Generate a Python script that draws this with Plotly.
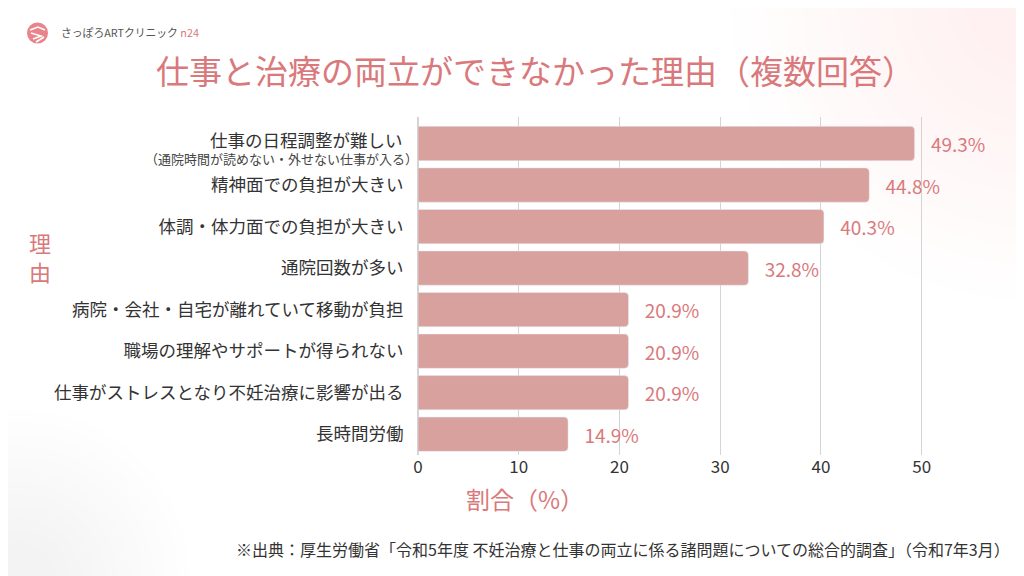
import plotly.graph_objects as go

categories = [
    "仕事の日程調整が難しい",
    "精神面での負担が大きい",
    "体調・体力面での負担が大きい",
    "通院回数が多い",
    "病院・会社・自宅が離れていて移動が負担",
    "職場の理解やサポートが得られない",
    "仕事がストレスとなり不妊治療に影響が出る",
    "長時間労働",
]
sub_note = "（通院時間が読めない・外せない仕事が入る）"
values = [49.3, 44.8, 40.3, 32.8, 20.9, 20.9, 20.9, 14.9]
x_ticks = [0, 10, 20, 30, 40, 50]

PINK = "#d9797b"
BAR = "#d8a19d"
FONT = "Noto Sans CJK JP"

# page body has an 8px margin; work in screen pixels and shift
OFF = 8
W, H = 1024, 576
PL, PR, PT, PB = 418, 972, 117, 455  # plot area in screen pixels
L, R, T, B = PL - OFF, W - (PR - OFF), PT - OFF, H - (PB - OFF)
pw, ph = (PR - PL), (PB - PT)

def px(xs):
    return (xs - PL) / pw

def py(ys):
    return (PB - ys) / ph

fig = go.Figure()
fig.add_trace(go.Bar(
    x=values, y=categories, orientation="h",
    marker=dict(color=BAR, cornerradius=4),
    width=0.825,
    text=[f"\u2002\u2009{v:.1f}%" for v in values],
    textposition="outside",
    textfont=dict(color=PINK, size=19, family=FONT),
    cliponaxis=False,
))

shapes = []

def circ(cx, cy, r, color, **kw):
    return dict(type="circle", xref="paper", yref="paper",
                x0=px(cx - r), x1=px(cx + r), y0=py(cy + r), y1=py(cy - r),
                fillcolor=color, line=dict(width=0), layer="below", **kw)

# soft background glows
for i in range(14):
    r = 300 - i * 18
    shapes.append(circ(1030, 0, r, "rgba(215,160,160,0.013)"))
for i in range(12):
    r = 170 - i * 12
    shapes.append(circ(20, 580, r, "rgba(215,160,160,0.014)"))

# logo mark
shapes.append(dict(type="circle", xref="paper", yref="paper",
                   x0=px(27), x1=px(48), y0=py(43.5), y1=py(22.5),
                   fillcolor="#e8848a", line=dict(width=0)))
def pth(points):
    d = "M " + " L ".join(f"{px(a):.5f},{py(b):.5f}" for a, b in points)
    return dict(type="path", xref="paper", yref="paper", path=d,
                line=dict(color="white", width=1.6))
shapes.append(pth([(30, 30), (38, 27), (45, 30)]))
shapes.append(pth([(31, 33), (41, 36), (33, 39)]))
shapes.append(pth([(36, 42), (44, 37)]))

annotations = [
    dict(text="仕事と治療の両立ができなかった理由（複数回答）", x=px(535), y=py(70),
         xanchor="center", yanchor="middle",
         font=dict(size=33, color=PINK, family=FONT)),
    dict(text="さっぽろARTクリニック <span style='color:#d9797b'>n24</span>", x=px(59), y=py(32),
         xanchor="left", yanchor="middle", font=dict(size=10.8, color="#555555", family=FONT)),
    dict(text="理<br>由", x=px(40), y=py(256), xanchor="center", yanchor="middle",
         font=dict(size=22, color=PINK, family=FONT)),
    dict(text="割合（%）", x=px(525), y=py(498), xanchor="center", yanchor="middle",
         font=dict(size=24, color=PINK, family=FONT)),
    dict(text="※出典：厚生労働省「令和5年度 不妊治療と仕事の両立に係る諸問題についての総合的調査」（令和7年3月）",
         x=px(1012), y=py(549), xanchor="right", yanchor="middle",
         font=dict(size=16, color="#333333", family=FONT)),
]
for a in annotations:
    a.update(xref="paper", yref="paper", showarrow=False)
# first category: main line raised, note below
annotations.append(dict(text=categories[0], x=px(PL), y=categories[0], xref="paper", yref="y",
                        xanchor="right", yanchor="middle", xshift=-13, yshift=4, showarrow=False,
                        font=dict(size=17.5, color="#333333", family=FONT)))
annotations.append(dict(text=sub_note, x=px(PL), y=categories[0], xref="paper", yref="y",
                        xanchor="right", yanchor="middle", xshift=2, yshift=-15, showarrow=False,
                        font=dict(size=13, color="#444444", family=FONT)))

tick_text = [""] + categories[1:]

fig.update_layout(
    width=W, height=H,
    margin=dict(l=L, r=R, t=T, b=B, autoexpand=False),
    paper_bgcolor="white", plot_bgcolor="rgba(0,0,0,0)",
    showlegend=False,
    shapes=shapes,
    annotations=annotations,
    font=dict(family=FONT, color="#333333"),
)
fig.update_xaxes(range=[0, 55], tickvals=x_ticks, showgrid=True, gridcolor="#d4d4d4", gridwidth=1,
                 zeroline=True, zerolinecolor="#d4d4d4", tickfont=dict(size=17, color="#333333"),
                 ticks="", showline=False, fixedrange=True)
fig.update_yaxes(autorange="reversed", tickmode="array", tickvals=categories, ticktext=tick_text,
                 tickfont=dict(size=17.5, color="#333333"),
                 ticks="outside", ticklen=10, tickcolor="rgba(0,0,0,0)", showgrid=False)

fig.write_html("out.html")
